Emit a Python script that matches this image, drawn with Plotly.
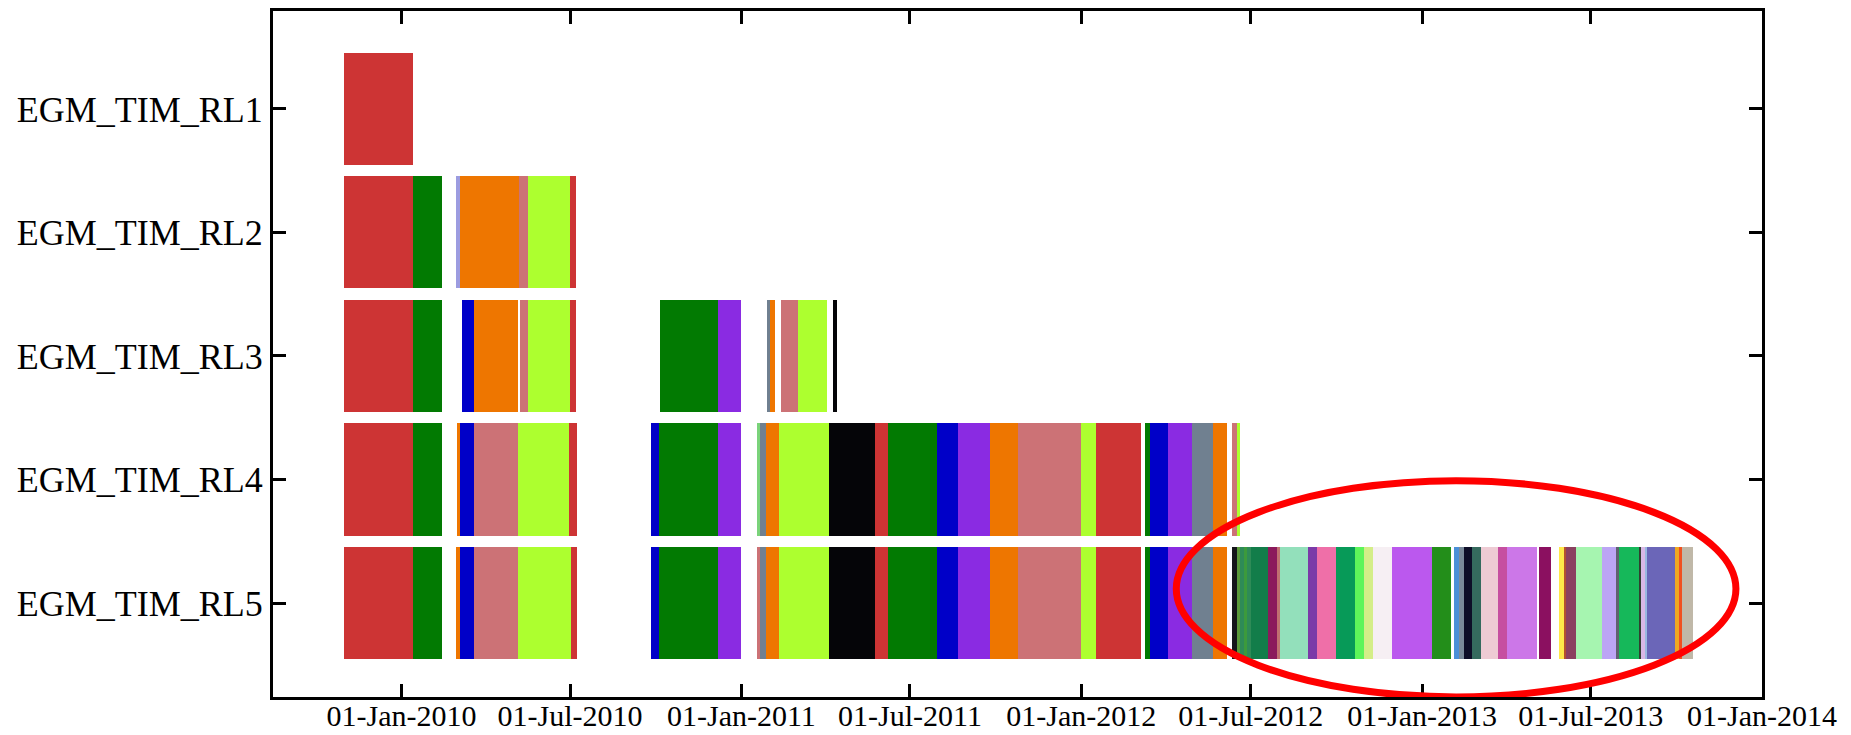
import pandas as pd
import plotly.graph_objects as go

# Product availability timeline: one row per release, one bar per data period
row_labels = ["EGM_TIM_RL1", "EGM_TIM_RL2", "EGM_TIM_RL3", "EGM_TIM_RL4", "EGM_TIM_RL5"]

RL1_start = ["2009-10-31"]
RL1_end = ["2010-01-13"]

RL2_start = ["2009-10-31", "2010-01-13", "2010-03-01", "2010-03-05", "2010-05-07",
             "2010-05-17", "2010-07-01"]
RL2_end = ["2010-01-13", "2010-02-13", "2010-03-05", "2010-05-07", "2010-05-17",
           "2010-07-01", "2010-07-07"]

RL3_start = ["2009-10-31", "2010-01-13", "2010-03-07", "2010-03-20", "2010-05-08",
             "2010-05-17", "2010-07-01",
             "2010-10-06", "2010-12-07", "2011-01-29", "2011-02-01", "2011-02-12",
             "2011-03-03", "2011-04-09"]
RL3_end = ["2010-01-13", "2010-02-13", "2010-03-20", "2010-05-06", "2010-05-17",
           "2010-07-01", "2010-07-07",
           "2010-12-07", "2011-01-01", "2011-02-01", "2011-02-06", "2011-03-03",
           "2011-04-03", "2011-04-14"]

RL4_start = ["2009-10-31", "2010-01-13", "2010-03-02", "2010-03-05", "2010-03-20",
             "2010-05-06", "2010-06-30",
             "2010-09-26", "2010-10-05", "2010-12-07",
             "2011-01-18", "2011-01-21", "2011-01-27", "2011-02-10", "2011-04-05",
             "2011-05-24", "2011-06-07", "2011-07-30", "2011-08-22", "2011-09-25",
             "2011-10-25", "2012-01-01", "2012-01-17",
             "2012-03-09", "2012-03-15", "2012-04-03", "2012-04-29", "2012-05-21",
             "2012-06-11", "2012-06-16"]
RL4_end = ["2010-01-13", "2010-02-13", "2010-03-05", "2010-03-20", "2010-05-06",
           "2010-06-30", "2010-07-08",
           "2010-10-05", "2010-12-07", "2011-01-01",
           "2011-01-21", "2011-01-27", "2011-02-10", "2011-04-05", "2011-05-24",
           "2011-06-07", "2011-07-30", "2011-08-22", "2011-09-25", "2011-10-25",
           "2012-01-01", "2012-01-17", "2012-03-05",
           "2012-03-15", "2012-04-03", "2012-04-29", "2012-05-21", "2012-06-06",
           "2012-06-16", "2012-06-19"]

RL5_start = ["2009-10-31", "2010-01-13", "2010-03-01", "2010-03-05", "2010-03-20",
             "2010-05-06", "2010-07-02",
             "2010-09-26", "2010-10-05", "2010-12-07",
             "2011-01-18", "2011-01-21", "2011-01-27", "2011-02-10", "2011-04-05",
             "2011-05-24", "2011-06-07", "2011-07-30", "2011-08-22", "2011-09-25",
             "2011-10-25", "2012-01-01", "2012-01-17",
             "2012-03-09", "2012-03-15", "2012-04-03", "2012-04-29", "2012-05-21",
             "2012-06-11", "2012-06-16", "2012-06-19", "2012-06-24", "2012-06-27",
             "2012-07-01", "2012-07-19", "2012-07-29", "2012-08-01", "2012-08-31",
             "2012-09-10", "2012-09-30", "2012-10-21", "2012-10-31", "2012-11-09",
             "2012-11-30", "2013-01-12",
             "2013-02-04", "2013-02-10", "2013-02-15", "2013-02-24", "2013-03-05",
             "2013-03-24", "2013-04-02",
             "2013-05-07",
             "2013-05-28", "2013-06-03", "2013-06-05", "2013-06-15", "2013-07-13",
             "2013-07-28", "2013-07-31", "2013-08-22", "2013-08-24", "2013-08-28",
             "2013-08-31", "2013-09-30", "2013-10-04", "2013-10-07"]
RL5_end = ["2010-01-13", "2010-02-13", "2010-03-05", "2010-03-20", "2010-05-06",
           "2010-07-02", "2010-07-08",
           "2010-10-05", "2010-12-07", "2011-01-01",
           "2011-01-21", "2011-01-27", "2011-02-10", "2011-04-05", "2011-05-24",
           "2011-06-07", "2011-07-30", "2011-08-22", "2011-09-25", "2011-10-25",
           "2012-01-01", "2012-01-17", "2012-03-05",
           "2012-03-15", "2012-04-03", "2012-04-29", "2012-05-21", "2012-06-06",
           "2012-06-16", "2012-06-19", "2012-06-24", "2012-06-27", "2012-07-01",
           "2012-07-19", "2012-07-29", "2012-08-01", "2012-08-31", "2012-09-10",
           "2012-09-30", "2012-10-21", "2012-10-31", "2012-11-09", "2012-11-30",
           "2013-01-12", "2013-02-01",
           "2013-02-10", "2013-02-15", "2013-02-24", "2013-03-05", "2013-03-24",
           "2013-04-02", "2013-05-04",
           "2013-05-19",
           "2013-06-03", "2013-06-05", "2013-06-15", "2013-07-13", "2013-07-28",
           "2013-07-31", "2013-08-22", "2013-08-24", "2013-08-28", "2013-08-31",
           "2013-09-30", "2013-10-04", "2013-10-07", "2013-10-19"]

# Colours of the periods
RED, GREEN, ORANGE, ROSY = "#cd3434", "#027a02", "#ee7600", "#cc7276"
LIME, BLUE, VIOLET, BLACK, SLATE = "#adff2f", "#0000c8", "#8a2be2", "#050508", "#708090"

RL1_colors = [RED]
RL2_colors = [RED, GREEN, "#9c9ce0", ORANGE, ROSY, LIME, RED]
RL3_colors = [RED, GREEN, BLUE, ORANGE, ROSY, LIME, RED,
              GREEN, VIOLET, SLATE, ORANGE, ROSY, LIME, BLACK]
RL4_colors = [RED, GREEN, ORANGE, BLUE, ROSY, LIME, RED,
              BLUE, GREEN, VIOLET,
              "#7ad37a", SLATE, ORANGE, LIME, BLACK,
              RED, GREEN, BLUE, VIOLET, ORANGE,
              ROSY, LIME, RED,
              GREEN, BLUE, VIOLET, SLATE, ORANGE,
              ROSY, LIME]
RL5_colors = [RED, GREEN, ORANGE, BLUE, ROSY, LIME, RED,
              BLUE, GREEN, VIOLET,
              ROSY, SLATE, ORANGE, LIME, BLACK,
              RED, GREEN, BLUE, VIOLET, ORANGE,
              ROSY, LIME, RED,
              GREEN, BLUE, VIOLET, SLATE, ORANGE,
              "#15151a", "#5a9a3a", "#2e8b57", "#3c9a3c", "#2e8b57",
              "#127d4a", "#8b1a5c", "#c07070", "#93e0bb",
              "#7b3aa8", "#ef6fa8", "#079a58", "#5ef55a", "#d4ee88",
              "#f6eff3", "#bb58ee", "#238e1a",
              "#4b8fd8", "#7a8a9a", "#0e0e28", "#356a5e", "#eecbd4",
              "#c64fa0", "#cc77e8",
              "#8b1060",
              "#ffe84a", "#b5502f", "#8b4060", "#a6f5b0", "#bca5f5",
              "#606070", "#16b85a", "#304030", "#d9b8e6",
              "#9ab8e0", "#6b66b8", "#f0a820", "#f05020", "#c0b8a8"]

rows = [
    (RL1_start, RL1_end, RL1_colors),
    (RL2_start, RL2_end, RL2_colors),
    (RL3_start, RL3_end, RL3_colors),
    (RL4_start, RL4_end, RL4_colors),
    (RL5_start, RL5_end, RL5_colors),
]

fig = go.Figure()
for i, (starts, ends, colors) in enumerate(rows):
    s = pd.to_datetime(starts)
    e = pd.to_datetime(ends)
    dur_ms = ((e - s).total_seconds() * 1000).tolist()
    fig.add_trace(go.Bar(
        orientation="h",
        y=[i] * len(starts),
        base=[d.strftime("%Y-%m-%d") for d in s],
        x=dur_ms,
        width=0.907,
        marker=dict(color=colors, line=dict(width=0)),
        showlegend=False,
        hoverinfo="skip",
    ))

axis_font = "Liberation Serif, Times New Roman, serif"

fig.update_layout(
    width=1851, height=735,
    margin=dict(l=273, r=89, t=11, b=38),
    paper_bgcolor="white", plot_bgcolor="white",
    barmode="overlay",
    bargap=0,
    font=dict(family=axis_font, color="black"),
    shapes=[dict(
        type="circle", xref="x", yref="y",
        x0="2012-04-12", x1="2013-12-04", y0=3.01, y1=4.76,
        line=dict(color="#ff0000", width=7),
        fillcolor="rgba(0,0,0,0)", layer="above",
    )],
)

fig.update_xaxes(
    type="date", automargin=False,
    range=["2009-08-16", "2014-01-01"],
    tick0="2010-01-01", dtick="M6", tickformat="%d-%b-%Y",
    ticks="inside", ticklen=13, tickwidth=2.5, tickcolor="black",
    ticklabelstandoff=-10,
    showline=True, linecolor="black", linewidth=3, mirror="ticks",
    showgrid=False, zeroline=False,
    tickfont=dict(size=30, family=axis_font, color="black"),
)
fig.update_yaxes(
    automargin=False,
    range=[4.761, -0.793],
    tickmode="array", tickvals=list(range(len(row_labels))), ticktext=row_labels,
    ticks="inside", ticklen=13, tickwidth=2.5, tickcolor="black",
    showline=True, linecolor="black", linewidth=3, mirror="ticks",
    showgrid=False, zeroline=False,
    tickfont=dict(size=36, family=axis_font, color="black"),
)

fig.write_html("out.html")
